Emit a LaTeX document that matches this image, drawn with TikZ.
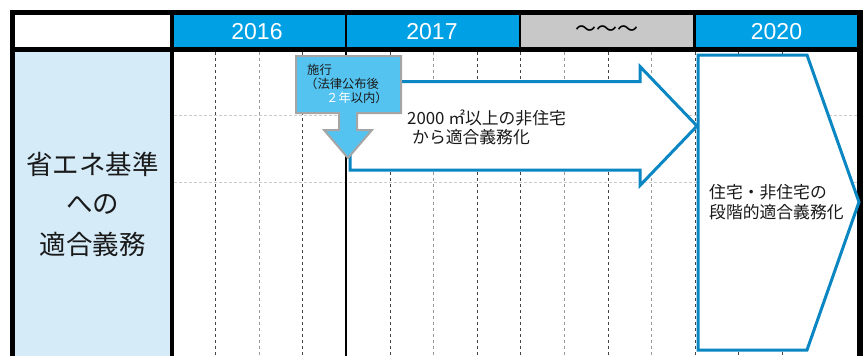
\documentclass[tikz,border=0pt]{standalone}
\usepackage{fontspec}
\setmainfont{Liberation Sans}
\newfontfamily\jp{Noto Sans CJK JP}
\definecolor{hdrblue}{HTML}{00A0E4}
\definecolor{lightcol}{HTML}{D5EBF8}
\definecolor{hdrgray}{HTML}{C8C8C8}
\definecolor{arrowblue}{HTML}{0A87C3}
\definecolor{callfill}{HTML}{55C3F0}
\definecolor{callline}{HTML}{A5A5A5}
\definecolor{darkdash}{HTML}{444444}
\definecolor{greydash}{HTML}{999999}
\definecolor{hdash}{HTML}{CCCCCC}
\definecolor{txt}{HTML}{1A1A1A}
\begin{document}
\begin{tikzpicture}[x=1pt,y=-1pt,
  hdr/.style={text=white,font=\fontsize{23}{23}\selectfont,inner sep=0pt},
  vdash/.style={line width=0.9pt,dash pattern=on 3pt off 3pt},
  hdashline/.style={hdash,line width=0.8pt,dash pattern=on 3pt off 2pt},
  blueline/.style={draw=arrowblue,fill=white,line width=3pt,line join=miter},
  jpbig/.style={text=txt,font=\jp\fontsize{26.5}{26.5}\selectfont,inner sep=0pt},
  jpmid/.style={text=txt,font=\jp\fontsize{16.8}{16.8}\selectfont,inner sep=0pt,anchor=west},
  jpsmall/.style={text=txt,font=\jp\fontsize{12.3}{12.3}\selectfont,inner sep=0pt,anchor=west}]
\useasboundingbox (0,0) rectangle (863,356);
% frame
\fill[black] (10,10) rectangle (863,356);
\fill[white] (15,15) rectangle (170,47);
\fill[hdrblue] (174,15) rectangle (345,47);
\fill[hdrblue] (347,15) rectangle (519,47);
\fill[hdrgray] (521,15) rectangle (693,47);
\fill[hdrblue] (696,15) rectangle (857,47);
\fill[lightcol] (15,52) rectangle (170,356);
\fill[white] (174,52) rectangle (857,356);
% header labels
\node[hdr] (h2016) at (257,31.5) {2016};
\node[hdr] (h2017) at (432,31.5) {2017};
\node[text=black,font=\jp\fontsize{21}{21}\selectfont,inner sep=0pt] (hgap) at (607,31.5) {〜〜〜};
\node[hdr] (h2020) at (776.5,31.5) {2020};
% left column text
\node[jpbig] (l1) at (92.5,164) {省エネ基準};
\node[jpbig] (l2) at (92.5,204) {への};
\node[jpbig] (l3) at (92.5,244) {適合義務};
% grid
\draw[hdashline] (174,115) -- (857,115);
\draw[hdashline] (174,182) -- (857,182);
\foreach \x in {215,302,390,477,520,608,695,738,782}
  \draw[vdash,darkdash] (\x,52) -- (\x,356);
\foreach \x in {259,433,564,651}
  \draw[vdash,greydash] (\x,52) -- (\x,356);
\draw[black,line width=2pt] (346,52) -- (346,356);
% blue arrow
\draw[blueline] (350,81.5) -- (640,81.5) -- (640,66.5) -- (697,126) -- (640,185.5) -- (640,170) -- (350,170) -- cycle;
\node[jpmid] (a1) at (407,118) {2000 ㎡以上の非住宅};
\node[jpmid] (a2) at (412,137) {から適合義務化};
% callout
\draw[fill=callfill,draw=callline,line width=2pt,line join=miter]
  (296,56) -- (401,56) -- (401,113) -- (357,113) -- (357,130) -- (372,130)
  -- (348,158) -- (324,130) -- (339,130) -- (339,113) -- (296,113) -- cycle;
\node[jpsmall] (c1) at (307,70) {施行};
\node[jpsmall] (c2) at (305,84) {（法律公布後};
\node[jpsmall] (c3) at (326,98) {\textcolor{white}{２年}以内）};
% 2020 shape
\draw[blueline] (698,55) -- (807,55) -- (859,202) -- (807,350) -- (698,350) -- cycle;
\node[jpmid] (b1) at (709,192) {住宅・非住宅の};
\node[jpmid] (b2) at (709,212) {段階的適合義務化};
\end{tikzpicture}
\end{document}
